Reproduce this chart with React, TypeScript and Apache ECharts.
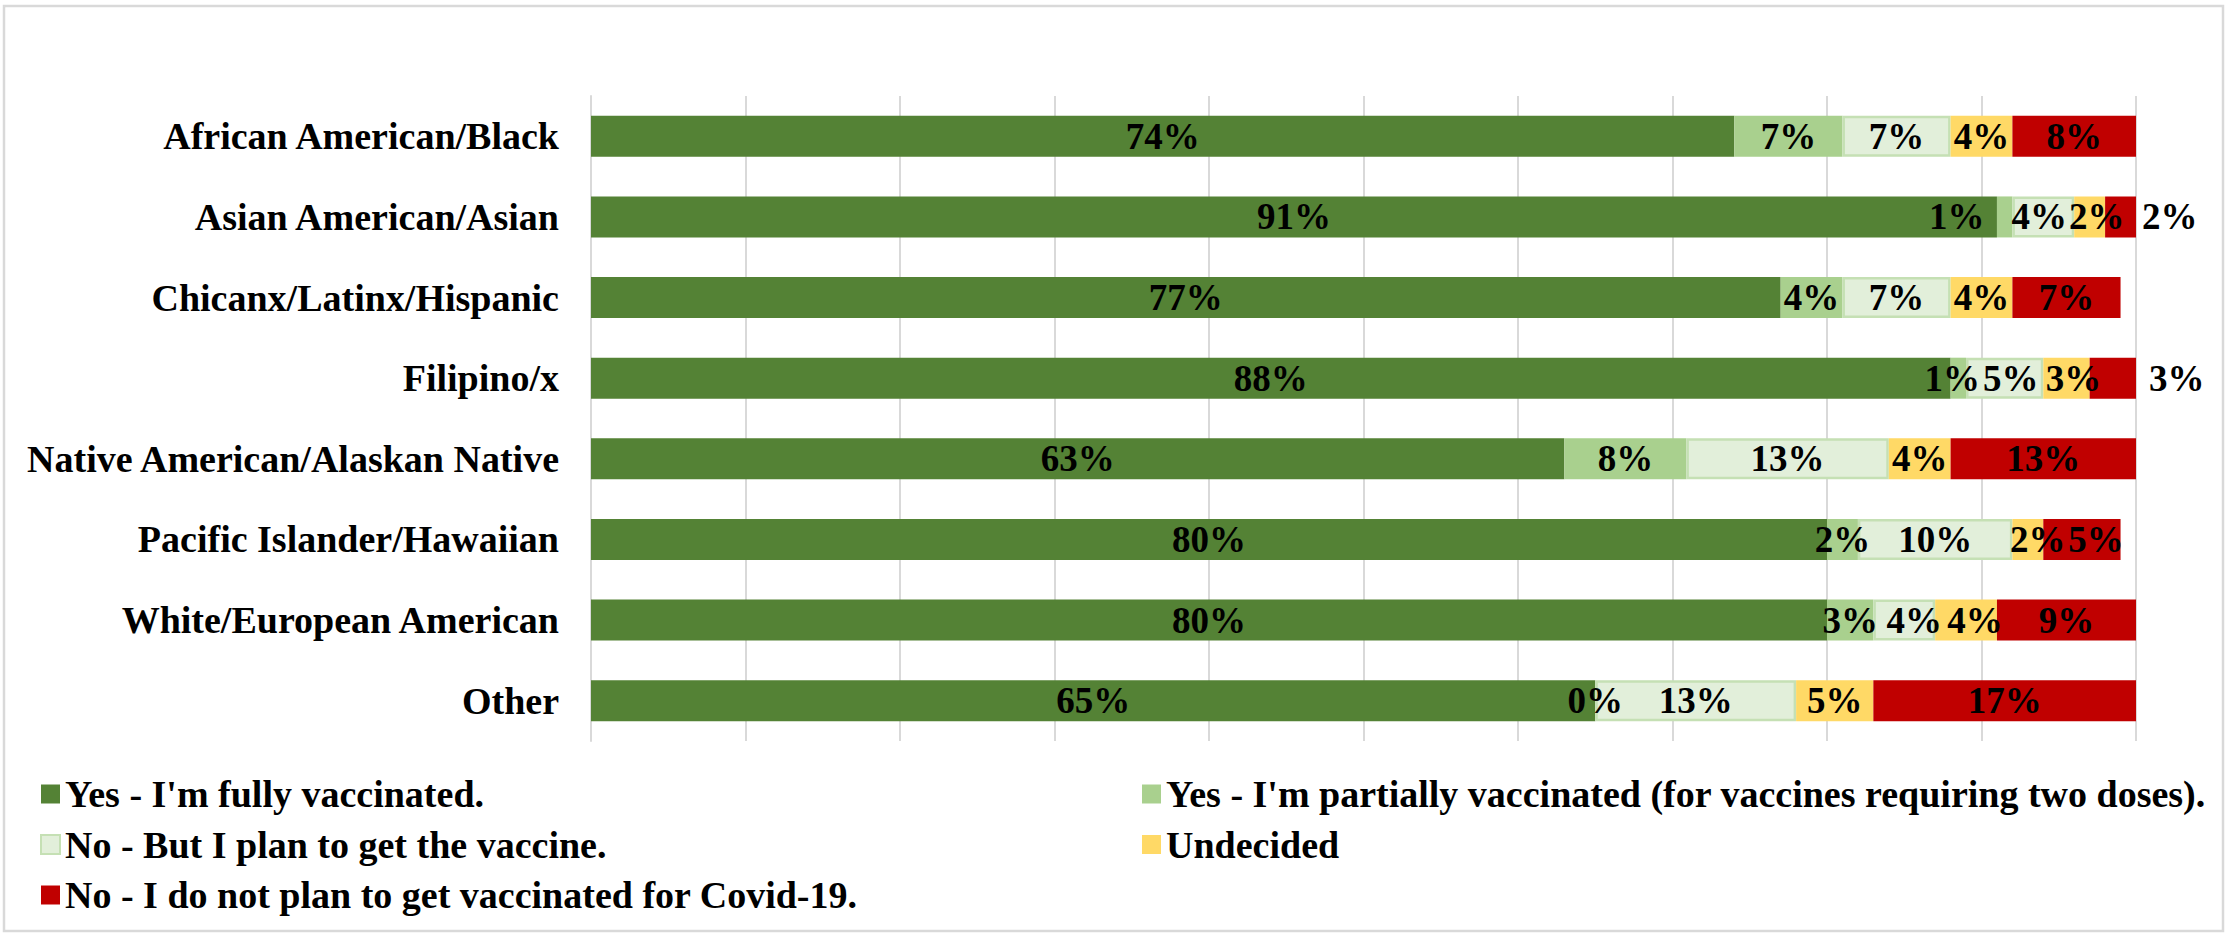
import React, { useEffect, useRef } from "react";
import * as echarts from "echarts";

const categories = [
  "African American/Black",
  "Asian American/Asian",
  "Chicanx/Latinx/Hispanic",
  "Filipino/x",
  "Native American/Alaskan Native",
  "Pacific Islander/Hawaiian",
  "White/European American",
  "Other",
];

const seriesNames = [
  "Yes - I'm fully vaccinated.",
  "Yes - I'm partially vaccinated (for vaccines requiring two doses).",
  "No - But I plan to get the vaccine.",
  "Undecided",
  "No - I do not plan to get vaccinated for Covid-19.",
];

const fully = [74, 91, 77, 88, 63, 80, 80, 65];
const partial = [7, 1, 4, 1, 7.9, 2, 3, 0];
const plan = [7, 4, 7, 5, 13.1, 10, 4, 13];
const undecided = [4, 2, 4, 3, 4, 2, 4, 5];
const notPlan = [8, 2, 7, 3, 12.5, 5, 9, 17];

const xTicks = [0, 10, 20, 30, 40, 50, 60, 70, 80, 90, 100];

const FONT = "'Liberation Serif', 'Times New Roman', serif";

export default function App() {
  const ref = useRef<HTMLDivElement>(null);

  useEffect(() => {
    if (!ref.current) return;
    const chart = echarts.init(ref.current, undefined, { renderer: "svg" });

    const values = [fully, partial, plan, undecided, notPlan];
    const colors = ["#548235", "#A9D08E", "#E2EFDA", "#FFD966", "#C00000"];
    const overrides: Record<number, Record<number, any>> = {
      1: { 1: { offset: [-48, 0] }, 3: { offset: [-6, 0] } },
      2: { 1: { offset: [-4, 0] }, 3: { offset: [6, 0] }, 6: { offset: [10, 0] } },
      3: { 1: { offset: [7, 0] }, 3: { offset: [7, 0] }, 5: { offset: [10, 0] }, 6: { offset: [9, 0] } },
      4: {
        1: { position: "right", distance: 6 },
        3: { position: "right", distance: 13 },
        5: { offset: [14, 0] },
      },
    };

    const series = values.map((arr, si) => ({
      name: seriesNames[si],
      type: "bar",
      stack: "total",
      barWidth: 41,
      itemStyle:
        si === 2
          ? { color: colors[si], borderColor: "#C5E0B4", borderWidth: 2.5 }
          : { color: colors[si] },
      label: {
        show: true,
        position: "inside",
        fontFamily: FONT,
        fontSize: 37,
        fontWeight: "bold",
        color: "#000",
        formatter: (p: any) => Math.round(p.value) + "%",
      },
      data: arr.map((v, i) => {
        const o = overrides[si] && overrides[si][i];
        return o ? { value: v, label: o } : v;
      }),
    }));

    const legendText = {
      fontFamily: FONT,
      fontSize: 38,
      fontWeight: "bold",
      color: "#000",
      lineHeight: 40,
    };

    chart.setOption({
      animation: false,
      backgroundColor: "#fff",
      grid: { left: 591, right: 89, top: 96, bottom: 192, containLabel: false },
      xAxis: {
        type: "value",
        min: xTicks[0],
        max: xTicks[xTicks.length - 1],
        interval: xTicks[1] - xTicks[0],
        axisLabel: { show: false },
        axisLine: { show: false },
        axisTick: { show: false },
        splitLine: { show: true, lineStyle: { color: "#D9D9D9", width: 2 } },
      },
      yAxis: {
        type: "category",
        inverse: true,
        data: categories,
        axisLine: { show: true, lineStyle: { color: "#D9D9D9", width: 2 } },
        axisTick: { show: false },
        axisLabel: {
          margin: 32,
          fontFamily: FONT,
          fontSize: 38,
          fontWeight: "bold",
          color: "#000",
        },
      },
      legend: [
        {
          left: 35,
          top: 769,
          orient: "vertical",
          icon: "rect",
          itemWidth: 19,
          itemHeight: 19,
          itemGap: 10.5,
          selectedMode: false,
          data: [seriesNames[0], seriesNames[2], seriesNames[4]],
          textStyle: legendText,
        },
        {
          left: 1137,
          top: 769,
          orient: "vertical",
          icon: "rect",
          itemWidth: 19,
          itemHeight: 19,
          itemGap: 10.5,
          selectedMode: false,
          data: [seriesNames[1], seriesNames[3]],
          textStyle: legendText,
        },
      ],
      graphic: [
        {
          type: "rect",
          shape: { x: 4, y: 6, width: 2219, height: 925 },
          style: { fill: "none", stroke: "#D9D9D9", lineWidth: 2.5 },
          silent: true,
          z: -1,
        },
      ],
      series,
    });

    return () => chart.dispose();
  }, []);

  return (
    <div
      ref={ref}
      style={{ position: "absolute", left: 0, top: 0, width: 2225, height: 933 }}
    />
  );
}
